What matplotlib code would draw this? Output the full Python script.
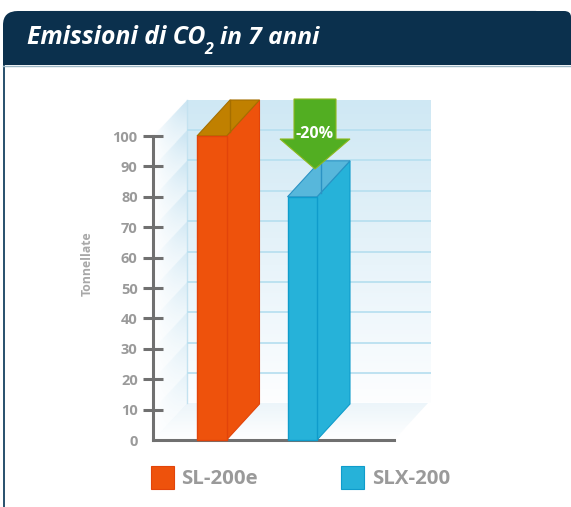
from matplotlib import pyplot as plt
from matplotlib.patches import Polygon, Rectangle, PathPatch
from matplotlib.path import Path
import numpy as np

# dati
models = ['SL-200e', 'SLX-200']
emissions = [100, 80]
reduction_label = '-20%'
y_ticks = [0, 10, 20, 30, 40, 50, 60, 70, 80, 90, 100]
grid_values = [100, 90, 80, 70, 60, 50, 40, 30, 20]

W, H = 571, 507
PX_PER_UNIT = 3.04
Y_ZERO_PX = 440
DEPTH_X = 33
DEPTH_Y = 36 / PX_PER_UNIT

front_colors = ['#EE520C', '#26B2D9']
edge_colors = ['#E2440A', '#0F9CCB']
top_colors = ['#C08000', '#57B7DB']
top_edges = ['#A56E00', '#2B93C4']
bar_left = [197, 287.5]
bar_width = 29.5
GREY = '#9A9A9A'
TITLE_FONT = ['Open Sans', 'DejaVu Sans']

fig = plt.figure(figsize=(W / 100, H / 100), dpi=100)

# sfondo in pixel: intestazione, pareti, pavimento
bg = fig.add_axes([0, 0, 1, 1], zorder=0)
bg.set_xlim(0, W)
bg.set_ylim(H, 0)
bg.axis('off')

header = Path(
    [(3, 65), (3, 25), (3, 11), (18, 11), (564, 11), (571, 11), (571, 17), (571, 65), (3, 65)],
    [Path.MOVETO, Path.LINETO, Path.CURVE3, Path.CURVE3, Path.LINETO, Path.CURVE3, Path.CURVE3,
     Path.LINETO, Path.CLOSEPOLY])
bg.add_patch(PathPatch(header, facecolor='#0B304D', edgecolor='none', zorder=3))
bg.add_patch(Rectangle((3, 65), 2, H - 65, facecolor='#2C5470', edgecolor='none', zorder=3))
bg.plot([3, 571], [65.5, 65.5], color='#9DB6C4', lw=1, zorder=3)
bg.plot([40, 535], [10.5, 10.5], color='#B9C6CF', lw=1, zorder=2)


def gradient_patch(rgba, extent, vertices, zorder=1):
    im = bg.imshow(rgba, extent=extent, aspect='auto', interpolation='bilinear', zorder=zorder)
    clip = Polygon(vertices, closed=True, transform=bg.transData, facecolor='none', edgecolor='none')
    bg.add_patch(clip)
    im.set_clip_path(clip)
    bg.set_xlim(0, W)
    bg.set_ylim(H, 0)


def blend(top, bottom, t):
    t = t[..., None]
    return np.array(top) * (1 - t) + np.array(bottom) * t


# parete di fondo
t = np.linspace(0, 1, 200).reshape(-1, 1)
back = blend((207, 232, 244), (253, 254, 255), t)
gradient_patch(back / 255, (187, 431, 403, 100), [(187, 100), (431, 100), (431, 403), (187, 403)])

# pavimento
t = np.linspace(0, 1, 60).reshape(-1, 1)
floor = blend((236, 245, 250), (255, 255, 255), t)
gradient_patch(floor / 255, (153, 431, 440, 403), [(153, 440), (394, 440), (428, 403), (187, 403)])

# parete laterale a bande diagonali
xs = np.linspace(153, 187, 80)
ys = np.linspace(100, 440, 500)
xx, yy = np.meshgrid(xs, ys)
slope = 36 / 34
phase = ((yy + (xx - 153) * slope - 136) / 30.4) % 1
across = (xx - 153) / 34
shade = across * (0.45 + 0.55 * (1 - phase)) * (0.35 + 0.65 * np.clip((440 - yy) / 300, 0, 1))
side = blend((255, 255, 255), (205, 230, 243), np.clip(shade * 1.1, 0, 1))
gradient_patch(side / 255, (153, 187, 440, 100), [(153, 136), (187, 100), (187, 403), (153, 440)])
bg.plot([187, 187], [100, 403], color='#C4E2F0', lw=1, zorder=1.5)

# grafico: x in pixel, y in tonnellate
ax = fig.add_axes([0, 0, 1, 1], zorder=1)
ax.patch.set_alpha(0)
ax.set_xlim(0, W)
ax.set_ylim((Y_ZERO_PX - H) / PX_PER_UNIT, Y_ZERO_PX / PX_PER_UNIT)

# linee della griglia sulla parete di fondo
ax.hlines(np.array(grid_values) + 2, 187, 431, color='#B9E0F0', lw=1.3, zorder=1)

for side_spine in ['top', 'right']:
    ax.spines[side_spine].set_visible(False)
for name, pos, bounds in [('left', 153, (0, 100)), ('bottom', 0, (153, 394))]:
    ax.spines[name].set_position(('data', pos))
    ax.spines[name].set_bounds(*bounds)
    ax.spines[name].set_color('#707070')
    ax.spines[name].set_linewidth(2.2)
ax.set_xticks([])
ax.set_yticks(y_ticks)
ax.tick_params(axis='y', direction='inout', length=14, width=2.2, color='#707070',
               labelcolor=GREY, labelsize=10.5, pad=4)
ax.yaxis.get_major_ticks()[0].tick1line.set_visible(False)
for lab in ax.get_yticklabels():
    lab.set_fontfamily(TITLE_FONT)
    lab.set_fontweight('bold')

ax.text(87, (Y_ZERO_PX - 264) / PX_PER_UNIT, 'Tonnellate', rotation=90, ha='center', va='center',
        fontsize=8.8, fontweight='bold', color='#A8A8A8', family=TITLE_FONT)

# barre in finto 3D
for i, value in enumerate(emissions):
    x0 = bar_left[i]
    x1 = x0 + bar_width
    fc, ec = front_colors[i], edge_colors[i]
    ax.add_patch(Polygon([(x1, 0), (x1 + DEPTH_X, DEPTH_Y), (x1 + DEPTH_X, value + DEPTH_Y), (x1, value)],
                         facecolor=fc, edgecolor=ec, lw=0.8, zorder=3))
    ax.add_patch(Polygon([(x0, value), (x0 + DEPTH_X, value + DEPTH_Y),
                          (x1 + DEPTH_X, value + DEPTH_Y), (x1, value)],
                         facecolor=top_colors[i], edgecolor=top_edges[i], lw=0.8, zorder=3))
    # spigolo posteriore visto in trasparenza
    ax.plot([x0 + DEPTH_X, x0 + DEPTH_X], [value + DEPTH_Y, value + DEPTH_Y * 0.11],
            color=top_edges[i], lw=1, zorder=3.5)
    ax.add_patch(Rectangle((x0, 0), bar_width, value, facecolor=fc, edgecolor=ec, lw=1, zorder=4))

# freccia della riduzione
ax_y = lambda px: (Y_ZERO_PX - px) / PX_PER_UNIT
arrow = [(294, ax_y(99)), (336, ax_y(99)), (336, ax_y(139)), (350, ax_y(139)),
         (315, ax_y(169)), (280, ax_y(139)), (294, ax_y(139))]
ax.add_patch(Polygon(arrow, closed=True, facecolor='#52AE22', edgecolor='#8DB81E', lw=0.8, zorder=5))
ax.text(315, ax_y(134.5), reduction_label, ha='center', va='center', color='white',
        fontsize=11.5, fontweight='bold', family=TITLE_FONT, zorder=6)

# legenda
legend_x = [151, 341]
for i, model in enumerate(models):
    bg.add_patch(Rectangle((legend_x[i], 466), 23, 23, facecolor=front_colors[i],
                           edgecolor=edge_colors[i], lw=0.8, zorder=3))
    ax.text(legend_x[i] + 30 + i, ax_y(478.5), model, ha='left', va='center', color=GREY,
            fontsize=14.7, fontweight='bold', family=TITLE_FONT)

# titolo
title_kw = dict(color='white', fontweight='bold', fontstyle='italic', family=TITLE_FONT, va='baseline')
ax.text(27, ax_y(44), 'Emissioni di CO', fontsize=17.8, **title_kw)
ax.text(204, ax_y(54), '2', fontsize=11.5, **title_kw)
ax.text(220, ax_y(44), 'in 7 anni', fontsize=17.6, **title_kw)

fig.savefig('out.png', dpi=100)
